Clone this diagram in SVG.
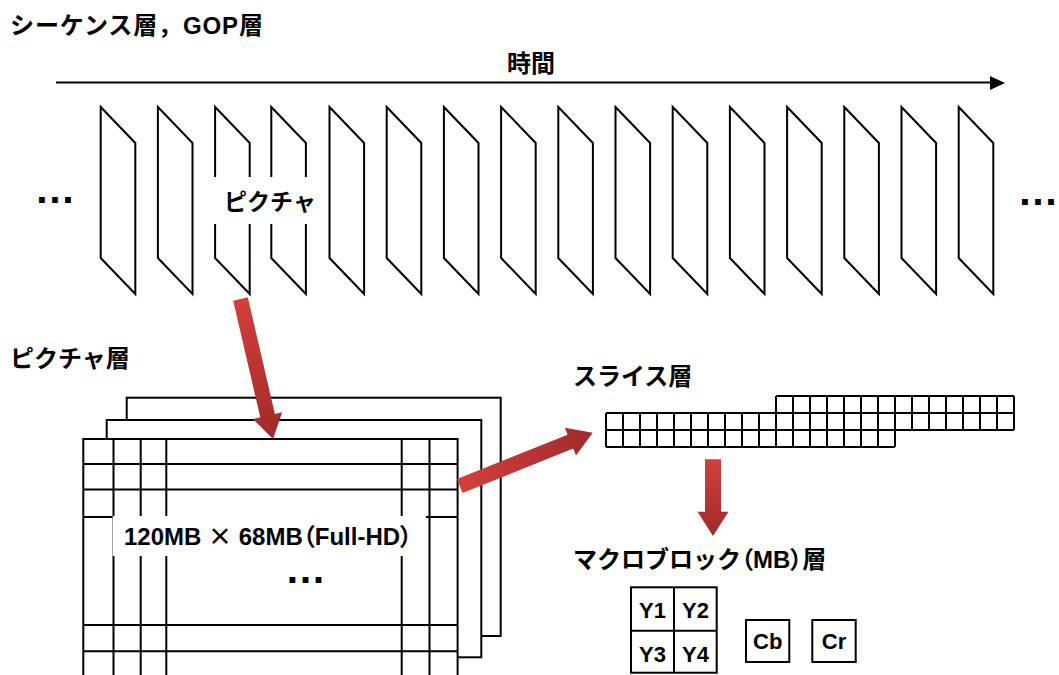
<svg xmlns="http://www.w3.org/2000/svg" width="1059" height="675" viewBox="0 0 1059 675">
<style>
text{font-family:"Liberation Sans","Noto Sans CJK JP",sans-serif;font-weight:bold;fill:#000}
.t{font-size:24px}
.s{font-size:22px}
.dot{font-size:41px;text-anchor:middle}
.ln{fill:none;stroke:#000;stroke-width:2}
.fr{fill:#fff;stroke:#000;stroke-width:2}
.pf{fill:#fff;stroke:#000;stroke-width:2;stroke-linejoin:miter}
.ar{fill:url(#rg)}
.p{font-feature-settings:"palt"}
.j{font-family:"Noto Sans CJK JP",sans-serif}
.c{text-anchor:middle}
</style>
<defs>
<linearGradient id="rg" x1="0" y1="0" x2="1" y2="0">
<stop offset="0" stop-color="#d2403c"/>
<stop offset="1" stop-color="#a02a2a"/>
</linearGradient>
<path id="pg" d="M0,0 L34.6,36 L34.6,187 L0,151 Z"/>
</defs>
<rect width="1059" height="675" fill="#fff"/>

<g id="sequence-layer">
<text class="t" x="10" y="34" textLength="253" lengthAdjust="spacing">シーケンス層，GOP層</text>
<text class="t c" x="531" y="72">時間</text>
<g id="time-axis">
<line class="ln" x1="56" y1="82.5" x2="992" y2="82.5"/>
<polygon points="990,76 1005,83 990,90" fill="#000"/>
</g>
<g id="frames">
<use href="#pg" class="pf" x="100.7" y="107"/>
<use href="#pg" class="pf" x="157.9" y="107"/>
<use href="#pg" class="pf" x="215.1" y="107"/>
<use href="#pg" class="pf" x="271.3" y="107"/>
<use href="#pg" class="pf" x="329.5" y="107"/>
<use href="#pg" class="pf" x="386.7" y="107"/>
<use href="#pg" class="pf" x="443.9" y="107"/>
<use href="#pg" class="pf" x="501.1" y="107"/>
<use href="#pg" class="pf" x="558.3" y="107"/>
<use href="#pg" class="pf" x="615.5" y="107"/>
<use href="#pg" class="pf" x="672.7" y="107"/>
<use href="#pg" class="pf" x="729.9" y="107"/>
<use href="#pg" class="pf" x="787.1" y="107"/>
<use href="#pg" class="pf" x="844.3" y="107"/>
<use href="#pg" class="pf" x="901.5" y="107"/>
<use href="#pg" class="pf" x="958.7" y="107"/>
</g>
<rect x="200" y="177" width="118" height="47" fill="#fff"/>
<text class="c" x="270" y="210" style="font-size:23px">ピクチャ</text>
<text class="dot" x="55" y="203">…</text>
<text class="dot" x="1038" y="205">…</text>
</g>

<g id="picture-layer">
<text class="t" x="10" y="367">ピクチャ層</text>
<rect class="fr" x="126.7" y="397.7" width="374" height="238.3"/>
<rect class="fr" x="106.7" y="420" width="374.6" height="237.3"/>
<rect class="fr" x="83.3" y="439" width="374.3" height="250"/>
<path class="ln" d="M113.5,439V689 M140.7,439V689 M166.3,439V689 M401.7,439V689 M429.5,439V689 M83.3,464H457.6 M83.3,489.5H457.6 M83.3,517H457.6 M83.3,625H457.6 M83.3,651.3H457.6"/>
<rect x="112.7" y="516" width="313.3" height="40" fill="#fff"/>
<text x="124" y="545" style="font-size:24px">120MB <tspan class="j">×</tspan> 68MB<tspan class="p">（</tspan>Full-HD<tspan class="p">）</tspan></text>
<text class="dot" x="305.5" y="583">…</text>
</g>

<g id="slice-layer">
<text class="t" x="573" y="385">スライス層</text>
<path class="ln" d="M776,396H1014 M606,413H1014 M606,430H1014 M606,447H895 M606,413V447 M623,413V447 M640,413V447 M657,413V447 M674,413V447 M691,413V447 M708,413V447 M725,413V447 M742,413V447 M759,413V447 M776,396V447 M793,396V447 M810,396V447 M827,396V447 M844,396V447 M861,396V447 M878,396V447 M895,396V447 M912,396V430 M929,396V430 M946,396V430 M963,396V430 M980,396V430 M997,396V430 M1014,396V430"/>
</g>

<g id="macroblock-layer">
<text class="t" x="573" y="568">マクロブロック<tspan class="p">（</tspan>MB<tspan class="p">）</tspan>層</text>
<g id="mb-y">
<rect class="fr" x="631" y="587.3" width="85.7" height="85.4"/>
<path class="ln" d="M674,587.3V672.7 M631,630.7H716.7"/>
<text class="s c" x="652.5" y="618">Y1</text>
<text class="s c" x="695.5" y="618">Y2</text>
<text class="s c" x="652.5" y="661.5">Y3</text>
<text class="s c" x="695.5" y="661.5">Y4</text>
</g>
<g id="mb-cb">
<rect class="fr" x="746" y="620" width="43.3" height="42"/>
<text class="s c" x="767.7" y="649">Cb</text>
</g>
<g id="mb-cr">
<rect class="fr" x="812.3" y="620" width="43.4" height="42"/>
<text class="s c" x="834" y="649">Cr</text>
</g>
</g>

<g id="connectors">
<path class="ar" transform="translate(240.5,299) rotate(76.93)" d="M0,-7.5H119.7V-15L143.7,0L119.7,15V7.5H0Z"/>
<path class="ar" transform="translate(459.7,486) rotate(-21.84)" d="M0,-7.5H119.3V-15L143.3,0L119.3,15V7.5H0Z"/>
<path class="ar" transform="translate(713,459.3) rotate(90)" d="M0,-8H52.4V-15.5L76.7,0L52.4,15.5V8H0Z"/>
</g>
</svg>
